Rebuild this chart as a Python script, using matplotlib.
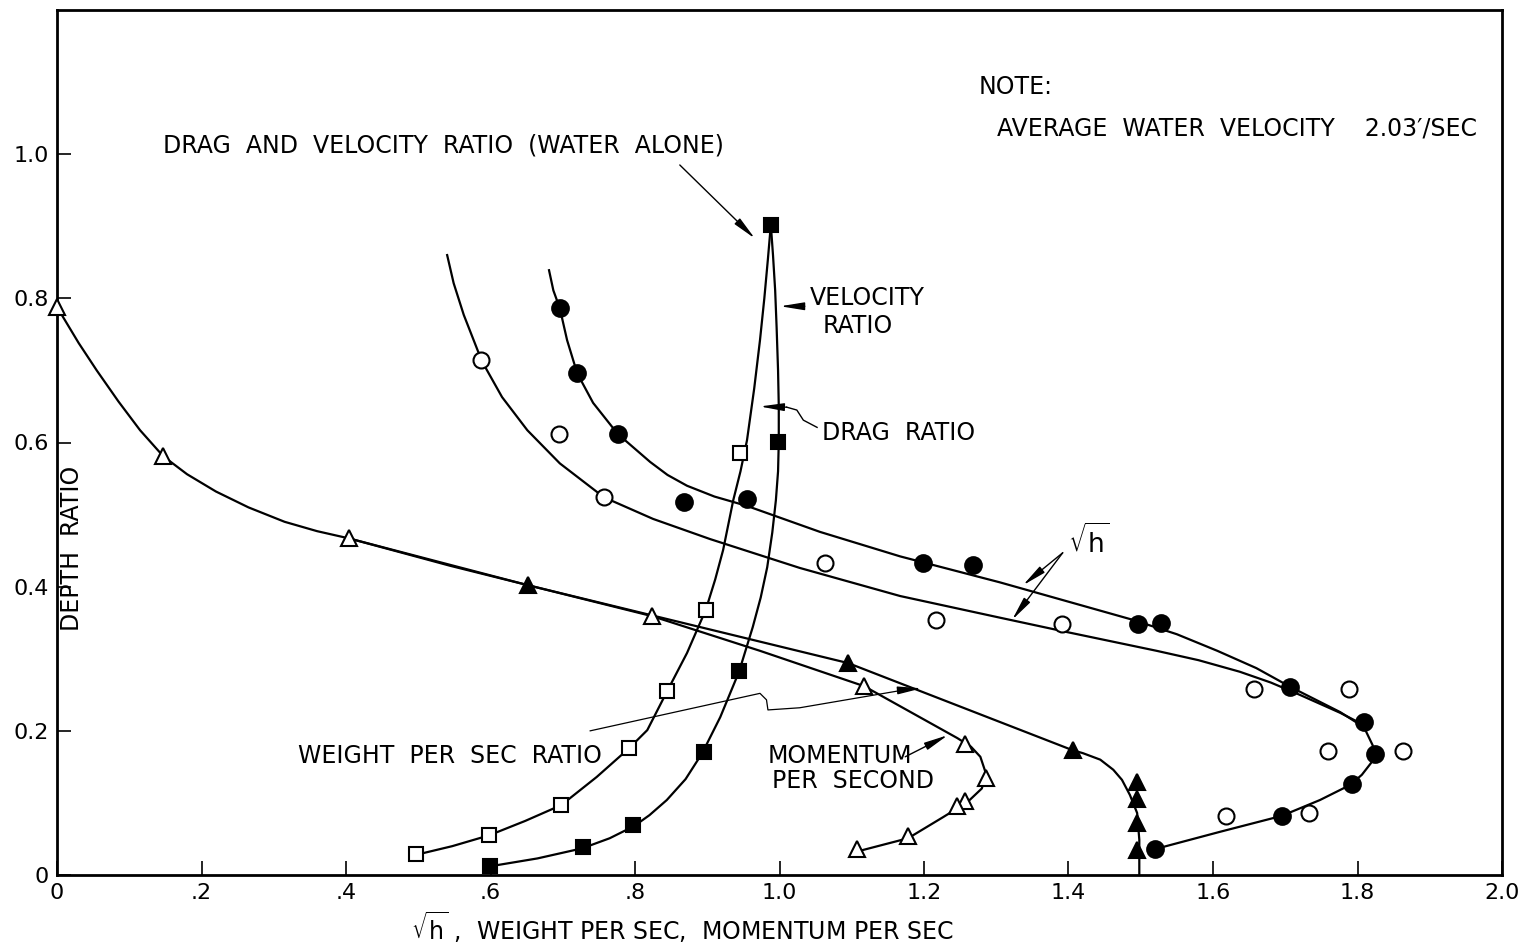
import numpy as np
import matplotlib
matplotlib.use("Agg")
import matplotlib.pyplot as plt

# ---- data (x, depth ratio) ----
# sqrt(h), solid circles
sqh_solid_x = [0.696, 0.720, 0.776, 0.868, 0.955, 1.199, 1.268, 1.496, 1.528, 1.707, 1.809, 1.824, 1.792, 1.695, 1.520]
sqh_solid_y = [0.786, 0.696, 0.612, 0.517, 0.521, 0.433, 0.430, 0.348, 0.349, 0.261, 0.212, 0.168, 0.126, 0.082, 0.036]
# sqrt(h), open circles
sqh_open_x = [0.587, 0.695, 0.757, 1.063, 1.217, 1.391, 1.657, 1.788, 1.759, 1.863, 1.618, 1.733]
sqh_open_y = [0.714, 0.612, 0.524, 0.433, 0.354, 0.348, 0.258, 0.258, 0.172, 0.172, 0.082, 0.086]
# velocity ratio (solid squares)
vel_x = [0.988, 0.998, 0.944, 0.896, 0.797, 0.728, 0.599]
vel_y = [0.902, 0.601, 0.283, 0.171, 0.069, 0.039, 0.012]
# drag ratio / weight per sec ratio (open squares)
drag_x = [0.945, 0.898, 0.844, 0.792, 0.698, 0.598, 0.497]
drag_y = [0.585, 0.368, 0.255, 0.176, 0.097, 0.055, 0.029]
# momentum per second (open triangles)
mom_x = [0.000, 0.147, 0.404, 0.824, 1.117, 1.257, 1.286, 1.257, 1.246, 1.178, 1.107]
mom_y = [0.788, 0.581, 0.467, 0.359, 0.262, 0.182, 0.135, 0.103, 0.096, 0.054, 0.036]
# weight per sec (solid triangles)
wps_x = [0.652, 1.095, 1.406, 1.495, 1.495, 1.495, 1.495]
wps_y = [0.402, 0.294, 0.173, 0.129, 0.105, 0.072, 0.035]

# hand-faired curves
sqh_solid_cx = [0.681, 0.687, 0.696, 0.706, 0.720, 0.742, 0.776, 0.821, 0.845, 0.872, 0.910, 0.955,
                1.056, 1.167, 1.305, 1.489, 1.550, 1.606, 1.660, 1.707, 1.776, 1.809, 1.821, 1.820,
                1.806, 1.790, 1.748, 1.695, 1.610, 1.520]
sqh_solid_cy = [0.839, 0.811, 0.786, 0.742, 0.696, 0.655, 0.612, 0.573, 0.555, 0.540, 0.525, 0.512,
                0.476, 0.442, 0.406, 0.354, 0.334, 0.311, 0.287, 0.261, 0.226, 0.205, 0.180, 0.157,
                0.139, 0.125, 0.104, 0.082, 0.060, 0.036]
sqh_open_cx = [0.540, 0.549, 0.563, 0.588, 0.616, 0.651, 0.696, 0.757, 0.825, 0.904, 1.028, 1.167,
               1.305, 1.398, 1.522, 1.580, 1.637, 1.680, 1.720, 1.776, 1.809]
sqh_open_cy = [0.860, 0.821, 0.777, 0.713, 0.663, 0.617, 0.571, 0.524, 0.494, 0.466, 0.426, 0.387,
               0.357, 0.337, 0.311, 0.298, 0.282, 0.267, 0.250, 0.225, 0.208]
vel_cx = [0.988, 0.991, 0.994, 0.996, 0.998, 0.999, 0.999, 0.998, 0.995, 0.990, 0.983, 0.974, 0.963,
          0.944, 0.918, 0.893, 0.870, 0.844, 0.820, 0.799, 0.765, 0.727, 0.665, 0.599]
vel_cy = [0.902, 0.860, 0.811, 0.760, 0.700, 0.650, 0.601, 0.560, 0.520, 0.475, 0.427, 0.385, 0.344,
          0.282, 0.219, 0.169, 0.133, 0.104, 0.083, 0.068, 0.051, 0.037, 0.023, 0.012]
drag_cx = [0.988, 0.984, 0.979, 0.973, 0.965, 0.955, 0.946, 0.936, 0.922, 0.911, 0.898, 0.872, 0.844,
           0.817, 0.792, 0.747, 0.698, 0.648, 0.598, 0.547, 0.497]
drag_cy = [0.902, 0.855, 0.800, 0.742, 0.675, 0.603, 0.560, 0.520, 0.451, 0.410, 0.368, 0.308, 0.254,
           0.201, 0.176, 0.136, 0.097, 0.075, 0.055, 0.040, 0.028]
mom_cx = [0.000, 0.012, 0.030, 0.055, 0.085, 0.115, 0.147, 0.180, 0.220, 0.265, 0.315, 0.360, 0.404,
          0.544, 0.824, 0.973, 1.117, 1.246, 1.265, 1.278, 1.286, 1.280, 1.260, 1.226, 1.178, 1.109]
mom_cy = [0.788, 0.768, 0.738, 0.700, 0.657, 0.617, 0.581, 0.556, 0.532, 0.510, 0.490, 0.477, 0.467,
          0.429, 0.359, 0.311, 0.262, 0.190, 0.178, 0.164, 0.140, 0.120, 0.101, 0.080, 0.051, 0.033]
wps_cx = [0.404, 0.652, 1.095, 1.406, 1.420, 1.444, 1.462, 1.474, 1.485, 1.495, 1.498, 1.498]
wps_cy = [0.467, 0.402, 0.294, 0.173, 0.169, 0.160, 0.146, 0.132, 0.111, 0.086, 0.049, 0.000]

x_ticks = [0, 0.2, 0.4, 0.6, 0.8, 1.0, 1.2, 1.4, 1.6, 1.8, 2.0]
x_labels = ["0", ".2", ".4", ".6", ".8", "1.0", "1.2", "1.4", "1.6", "1.8", "2.0"]
y_ticks = [0, 0.2, 0.4, 0.6, 0.8, 1.0]
y_labels = ["0", "0.2", "0.4", "0.6", "0.8", "1.0"]

plt.rcParams["font.family"] = ["DejaVu Sans"]
plt.rcParams["mathtext.fontset"] = "dejavusans"

fig = plt.figure(figsize=(15.25, 9.43), dpi=100)
ax = fig.add_axes([57 / 1525, 68 / 943, 1445 / 1525, 865 / 943])
ax.set_xlim(0, 2.0)
ax.set_ylim(0, 1.2)

lw = 1.6
# curves
for cx, cy in [(sqh_solid_cx, sqh_solid_cy), (sqh_open_cx, sqh_open_cy), (vel_cx, vel_cy),
               (drag_cx, drag_cy), (mom_cx, mom_cy), (wps_cx, wps_cy)]:
    ax.plot(cx, cy, color="black", lw=lw, zorder=2, clip_on=False, solid_joinstyle="round")

# markers
mk = dict(linestyle="none", color="black", markeredgewidth=1.5, zorder=3, clip_on=False)
ax.plot(sqh_solid_x, sqh_solid_y, marker="o", markersize=12, markerfacecolor="black", **mk)
ax.plot(sqh_open_x, sqh_open_y, marker="o", markersize=11.5, markerfacecolor="white", **mk)
ax.plot(vel_x, vel_y, marker="s", markersize=9.5, markerfacecolor="black", **mk)
ax.plot(drag_x, drag_y, marker="s", markersize=9.5, markerfacecolor="white", **mk)
ax.plot(mom_x, mom_y, marker="^", markersize=12, markerfacecolor="white", **mk)
ax.plot(wps_x, wps_y, marker="^", markersize=12, markerfacecolor="black", **mk)

# axes styling
for s in ax.spines.values():
    s.set_linewidth(2)
ax.set_xticks(x_ticks)
ax.set_xticklabels(x_labels)
ax.set_yticks(y_ticks)
ax.set_yticklabels(y_labels)
ax.tick_params(direction="in", length=10, width=1.2, labelsize=16, pad=6)

fs = 17
arrow = dict(arrowstyle="-|>,head_length=0.8,head_width=0.13", color="black", lw=1.0,
             mutation_scale=18, shrinkA=0, shrinkB=0)

ax.text(0.147, 1.012, "DRAG  AND  VELOCITY  RATIO  (WATER  ALONE)", fontsize=fs, va="center")
ax.annotate("", xy=(0.966, 0.883), xytext=(0.862, 0.985), arrowprops=arrow)

ax.text(1.042, 0.800, "VELOCITY", fontsize=fs, va="center")
ax.text(1.059, 0.761, "RATIO", fontsize=fs, va="center")
ax.annotate("", xy=(1.001, 0.789), xytext=(1.035, 0.789), arrowprops=arrow)

ax.text(1.059, 0.613, "DRAG  RATIO", fontsize=fs, va="center")
ax.plot([1.052, 1.033, 1.024, 1.010], [0.621, 0.631, 0.645, 0.649], color="black", lw=1.0)
ax.annotate("", xy=(0.973, 0.650), xytext=(1.010, 0.649), arrowprops=arrow)

ax.text(1.40, 0.462, r"$\sqrt{\mathrm{h}}$", fontsize=19, va="center")
ax.annotate("", xy=(1.337, 0.402), xytext=(1.392, 0.447), arrowprops=arrow)
ax.annotate("", xy=(1.322, 0.354), xytext=(1.392, 0.447), arrowprops=arrow)

ax.text(0.334, 0.165, "WEIGHT  PER  SEC  RATIO", fontsize=fs, va="center")
ax.plot([0.738, 0.973, 0.982, 0.984, 1.028, 1.174], [0.200, 0.252, 0.243, 0.229, 0.232, 0.257],
        color="black", lw=0.9)
ax.annotate("", xy=(1.197, 0.259), xytext=(1.174, 0.257), arrowprops=arrow)

ax.text(0.983, 0.165, "MOMENTUM", fontsize=fs, va="center")
ax.text(0.990, 0.130, "PER  SECOND", fontsize=fs, va="center")
ax.annotate("", xy=(1.233, 0.194), xytext=(1.174, 0.164), arrowprops=arrow)

ax.text(1.275, 1.093, "NOTE:", fontsize=fs, va="center")
ax.text(1.301, 1.036, "AVERAGE  WATER  VELOCITY    2.03\u2032/SEC", fontsize=fs, va="center")

ax.text(0.021, 0.453, "DEPTH  RATIO", fontsize=fs, rotation=90, ha="center", va="center")
ax.text(0.4325, -0.061, r"$\sqrt{\mathrm{h}}$ ,  WEIGHT PER SEC,  MOMENTUM PER SEC", fontsize=fs,
        ha="center", va="center", transform=ax.transAxes)

fig.savefig("out.png", dpi=100)
